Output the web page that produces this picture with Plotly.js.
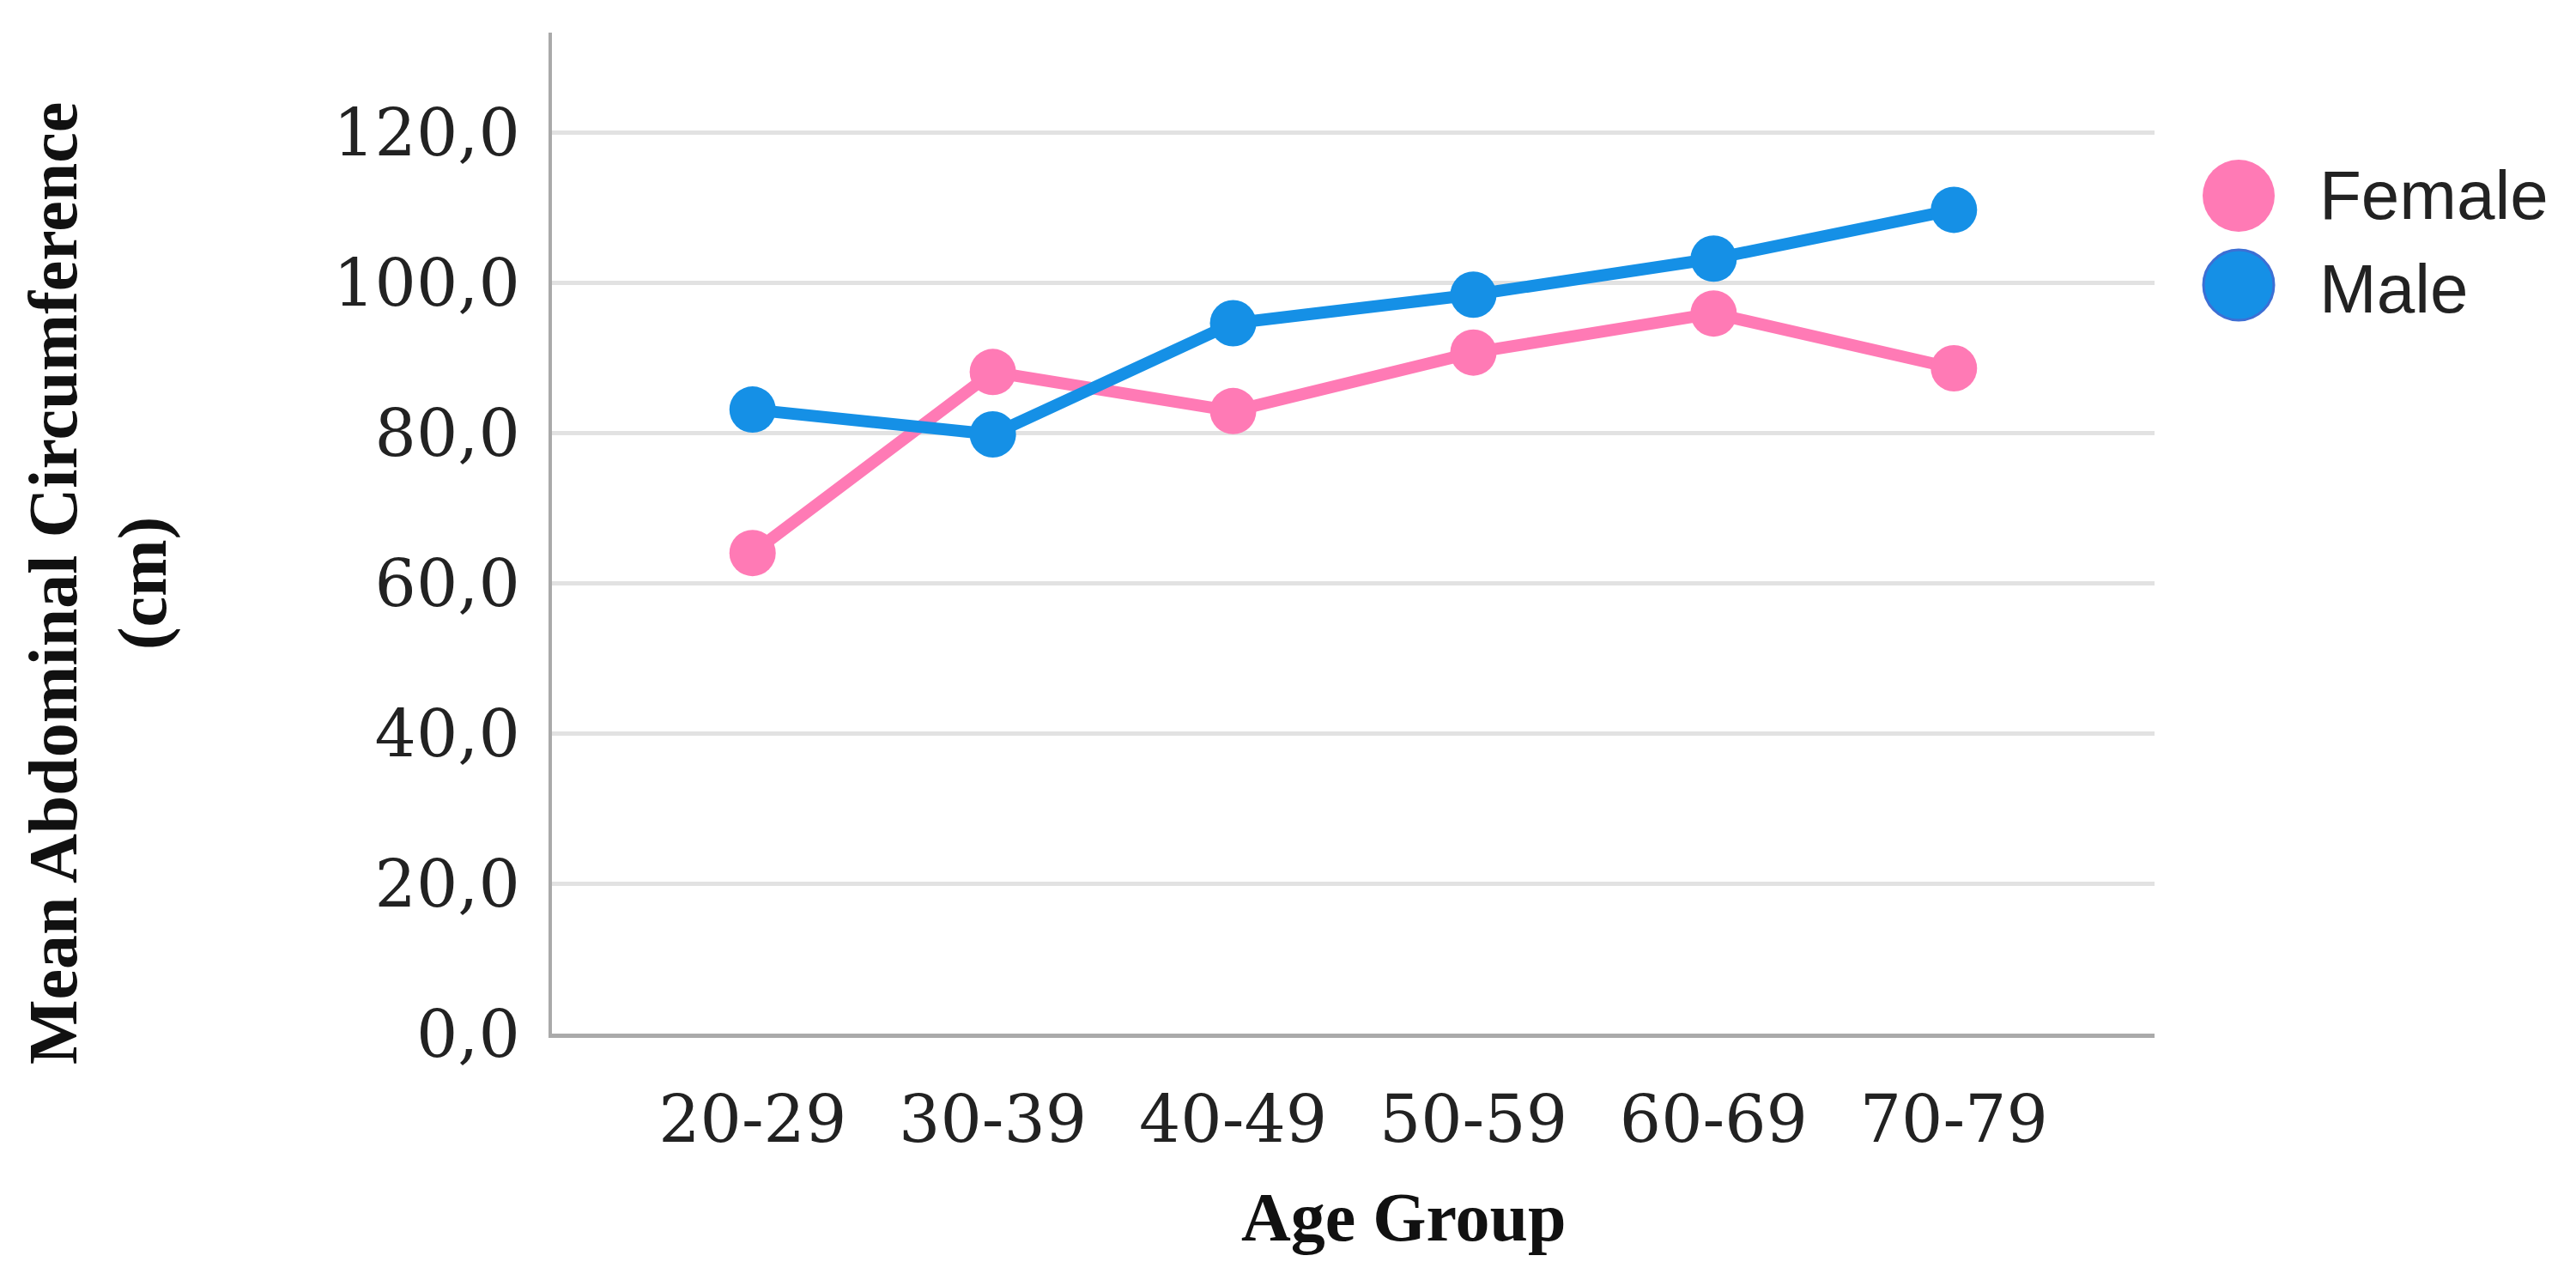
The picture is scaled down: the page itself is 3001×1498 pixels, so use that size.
<!DOCTYPE html>
<html>
<head>
<meta charset="utf-8">
<script src="https://cdn.plot.ly/plotly-3.0.1.min.js"></script>
<style>html,body{margin:0;padding:0;background:#fff;}#chart{width:3001px;height:1498px;}</style>
</head>
<body>
<div id="chart"></div>
<script>
const ageGroups = ["20-29", "30-39", "40-49", "50-59", "60-69", "70-79"];
const femaleMeans = [64.0, 88.1, 82.9, 90.7, 95.9, 88.6];
const maleMeans = [83.1, 79.8, 94.6, 98.4, 103.2, 109.7];
const yTicks = [0, 20, 40, 60, 80, 100, 120];
const seriesNames = ["Female", "Male"];

const pink = "#ff7ab5";
const blue = "#1590e6";

const traces = [
  {
    x: ageGroups, y: femaleMeans, name: seriesNames[0], type: "scatter", mode: "lines+markers",
    line: {color: pink, width: 14}, marker: {color: pink, size: 54}, showlegend: false
  },
  {
    x: ageGroups, y: maleMeans, name: seriesNames[1], type: "scatter", mode: "lines+markers",
    line: {color: blue, width: 14}, marker: {color: blue, size: 54}, showlegend: false
  }
];

const layout = {
  width: 3001, height: 1498,
  paper_bgcolor: "#ffffff", plot_bgcolor: "#ffffff",
  margin: {l: 643, r: 491, t: 38, b: 294},
  separators: ",.",
  showlegend: false,
  xaxis: {
    type: "category", range: [-0.835, 5.835],
    showgrid: false, zeroline: false,
    showline: true, linecolor: "#aaaaaa", linewidth: 5,
    ticks: "", ticklabelstandoff: 30,
    tickfont: {family: "DejaVu Serif", size: 76, color: "#222222"}
  },
  yaxis: {
    range: [0, 133.3], tickvals: yTicks, tickformat: ".1f",
    showgrid: true, gridcolor: "#e2e2e2", gridwidth: 5,
    zeroline: false, showline: true, linecolor: "#aaaaaa", linewidth: 4,
    ticks: "", ticklabelstandoff: 18,
    tickfont: {family: "DejaVu Serif", size: 76, color: "#222222"}
  },
  shapes: [
    {type: "circle", xref: "paper", yref: "paper", xsizemode: "pixel", ysizemode: "pixel",
     xanchor: (2608 - 643) / 1867, yanchor: (1204 - 228) / 1166,
     x0: -42, x1: 42, y0: -42, y1: 42, fillcolor: pink, line: {width: 0}},
    {type: "circle", xref: "paper", yref: "paper", xsizemode: "pixel", ysizemode: "pixel",
     xanchor: (2608 - 643) / 1867, yanchor: (1204 - 332) / 1166,
     x0: -41, x1: 41, y0: -41, y1: 41, fillcolor: blue, line: {width: 3, color: "#3d6fd4"}}
  ],
  annotations: [
    {text: seriesNames[0], xref: "paper", yref: "paper", x: (2700 - 643) / 1867, y: (1204 - 228) / 1166,
     xanchor: "left", yanchor: "middle", showarrow: false,
     font: {family: "Liberation Sans", size: 80, color: "#222222"}},
    {text: seriesNames[1], xref: "paper", yref: "paper", x: (2700 - 643) / 1867, y: (1204 - 336) / 1166,
     xanchor: "left", yanchor: "middle", showarrow: false,
     font: {family: "Liberation Sans", size: 80, color: "#222222"}},
    {text: "<b>Mean Abdominal Circumference<br>(cm)</b>", xref: "paper", yref: "paper",
     x: (115 - 643) / 1867, y: (1204 - 680) / 1166, xanchor: "center", yanchor: "middle",
     textangle: -90, showarrow: false,
     font: {family: "Liberation Serif", size: 80, color: "#111111"}},
    {text: "<b>Age Group</b>", xref: "paper", yref: "paper",
     x: (1635 - 643) / 1867, y: (1204 - 1418) / 1166, xanchor: "center", yanchor: "middle",
     showarrow: false,
     font: {family: "Liberation Serif", size: 80, color: "#111111"}}
  ]
};

Plotly.newPlot("chart", traces, layout, {staticPlot: true, displayModeBar: false});
</script>
</body>
</html>
